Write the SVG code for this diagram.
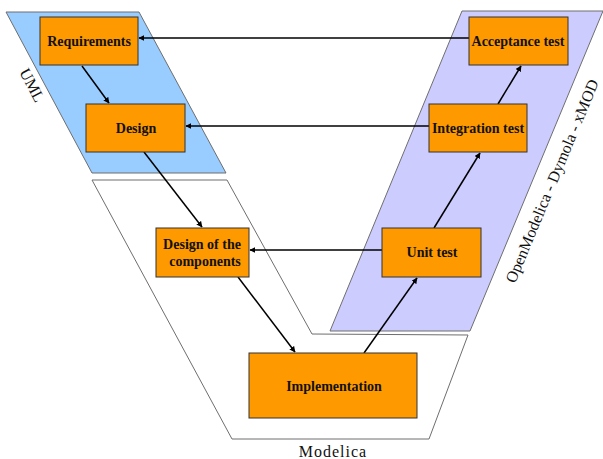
<svg xmlns="http://www.w3.org/2000/svg" width="603" height="459" viewBox="0 0 603 459">
<style>
.node rect{fill:#ff9900;stroke:#333333;stroke-width:1}
.node text{font-family:"Liberation Serif",serif;font-weight:bold;font-size:14px;fill:#111;text-anchor:middle}
.area{stroke:#6e6e6e;stroke-width:1}
.lbl{font-family:"Liberation Serif",serif;font-size:16px;fill:#111}
.conn line{stroke:#000;stroke-width:1.5;marker-end:url(#ah)}
</style>
<defs>
<marker id="ah" viewBox="0 0 10 10" refX="9" refY="5" markerWidth="4" markerHeight="4" orient="auto" markerUnits="strokeWidth">
<path d="M0,0 L10,5 L0,10 z" fill="#000"/>
</marker>
</defs>
<rect width="603" height="459" fill="#fff"/>
<g id="areas">
<polygon class="area" points="6,12 139,12 226,173 92,173" fill="#99ccff"/>
<polygon class="area" points="92,180 227,180 312,334 468,335 429,439 232,439" fill="#ffffff"/>
<polygon class="area" points="462,11 603,11 470,331 330,331" fill="#ccccff"/>
<text class="lbl" transform="translate(19,72) rotate(62)">UML</text>
<text class="lbl" transform="translate(515,284) rotate(-67.4)">OpenModelica - Dymola - xMOD</text>
<text class="lbl" x="333" y="457" text-anchor="middle" letter-spacing="1">Modelica</text>
</g>
<g id="connectors" class="conn">
<line x1="469" y1="38" x2="139" y2="38"/>
<line x1="429" y1="126" x2="186" y2="126"/>
<line x1="382" y1="250" x2="250" y2="250"/>
<line x1="82" y1="66" x2="109" y2="103"/>
<line x1="144" y1="152" x2="202" y2="227"/>
<line x1="238" y1="277" x2="295" y2="352"/>
<line x1="364" y1="353" x2="417" y2="278"/>
<line x1="434" y1="228" x2="480" y2="153"/>
<line x1="498" y1="104" x2="521" y2="66"/>
</g>
<g id="requirements" class="node"><rect x="40" y="17" width="98" height="48"/><text x="89" y="46">Requirements</text></g>
<g id="design" class="node"><rect x="86" y="104" width="99" height="48"/><text x="136" y="133">Design</text></g>
<g id="design-components" class="node"><rect x="156" y="228" width="93" height="49"/><text x="202" y="249">Design of the</text><text x="205" y="266">components</text></g>
<g id="implementation" class="node"><rect x="249" y="353" width="168" height="65"/><text x="334" y="391">Implementation</text></g>
<g id="unit-test" class="node"><rect x="382" y="228" width="99" height="49"/><text x="432" y="257">Unit test</text></g>
<g id="integration-test" class="node"><rect x="429" y="104" width="98" height="48"/><text x="478" y="133">Integration test</text></g>
<g id="acceptance-test" class="node"><rect x="469" y="17" width="99" height="48"/><text x="518" y="46">Acceptance test</text></g>
</svg>
